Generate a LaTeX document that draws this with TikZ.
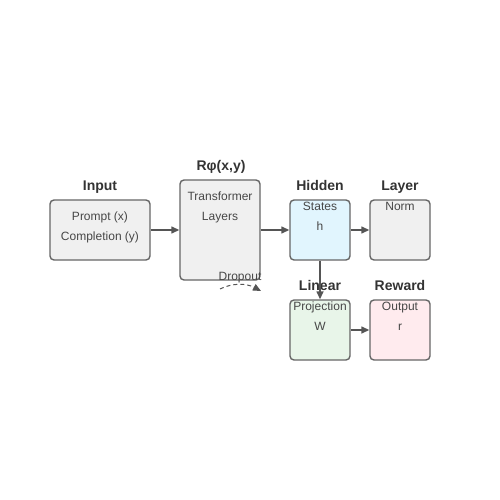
\documentclass[tikz,border=0pt]{standalone}
\usepackage{fontspec}
\setmainfont{Liberation Sans}
\usetikzlibrary{arrows.meta}

\definecolor{edgegray}{HTML}{666666}
\definecolor{arrowgray}{HTML}{555555}
\definecolor{textgray}{HTML}{333333}
\definecolor{boxgray}{HTML}{F0F0F0}
\definecolor{hiddenblue}{HTML}{E1F5FE}
\definecolor{projgreen}{HTML}{E8F5E9}
\definecolor{rewardpink}{HTML}{FFEBEE}

\tikzset{
    box/.style={draw=edgegray, line width=1.4pt, rounded corners=4pt, inner sep=0pt},
    title/.style={font=\fontsize{14}{16}\selectfont\bfseries, text=textgray,
        text height=10pt, text depth=3pt},
    small/.style={font=\fontsize{12}{14}\selectfont, text=textgray!90!white,
        text height=8.6pt, text depth=2.6pt},
    conn/.style={draw=arrowgray, line width=1.4pt, -{Triangle[length=8pt, width=7pt]}}
}

\begin{document}
\begin{tikzpicture}[x=1pt, y=-1pt]
    \useasboundingbox (0,0) rectangle (500,500);

    % boxes
    \node[box, fill=boxgray, minimum width=100pt, minimum height=60pt] (input) at (100,230) {};
    \node[box, fill=boxgray, minimum width=80pt, minimum height=100pt] (trans) at (220,230) {};
    \node[box, fill=hiddenblue, minimum width=60pt, minimum height=60pt] (hidden) at (320,230) {};
    \node[box, fill=boxgray, minimum width=60pt, minimum height=60pt] (norm) at (400,230) {};
    \node[box, fill=projgreen, minimum width=60pt, minimum height=60pt] (proj) at (320,330) {};
    \node[box, fill=rewardpink, minimum width=60pt, minimum height=60pt] (reward) at (400,330) {};

    % titles
    \node[title] (inputT) at (100,187) {Input};
    \node[title] (transT) at (221,167) {Rφ(x,y)};
    \node[title] (hiddenT) at (320,187) {Hidden};
    \node[title] (normT) at (400,187) {Layer};
    \node[title] (projT) at (320,287) {Linear};
    \node[title] (rewardT) at (400,287) {Reward};

    % box texts
    \node[small] (inputA) at (100,217) {Prompt (x)};
    \node[small] (inputB) at (100,237) {Completion (y)};
    \node[small] (transA) at (220,197) {Transformer};
    \node[small] (transB) at (220,217) {Layers};
    \node[small] (hiddenA) at (320,207) {States};
    \node[small] (hiddenB) at (320,227) {h};
    \node[small] (normA) at (400,207) {Norm};
    \node[small] (projA) at (320,307) {Projection};
    \node[small] (projB) at (320,327) {W};
    \node[small] (rewardA) at (400,307) {Output};
    \node[small] (rewardB) at (400,327) {r};

    % connectors
    \draw[conn] (input.east) -- (trans.west);
    \draw[conn] (trans.east |- input.east) -- (hidden.west);
    \draw[conn] (hidden.east) -- (norm.west);
    \draw[conn] (hidden.south) -- (proj.north);
    \draw[conn] (proj.east) -- (reward.west);

    % dropout
    \node[small] (drop) at (240,277) {Dropout};
    \coordinate (dropA) at (220,289);
    \coordinate (dropB) at (261,291);
    \draw[draw=arrowgray, line width=1pt, dash pattern=on 4pt off 3pt, -{Triangle[length=8pt, width=7pt]}]
        (dropA) .. controls (232,283) and (246,283) .. (dropB);
\end{tikzpicture}
\end{document}
